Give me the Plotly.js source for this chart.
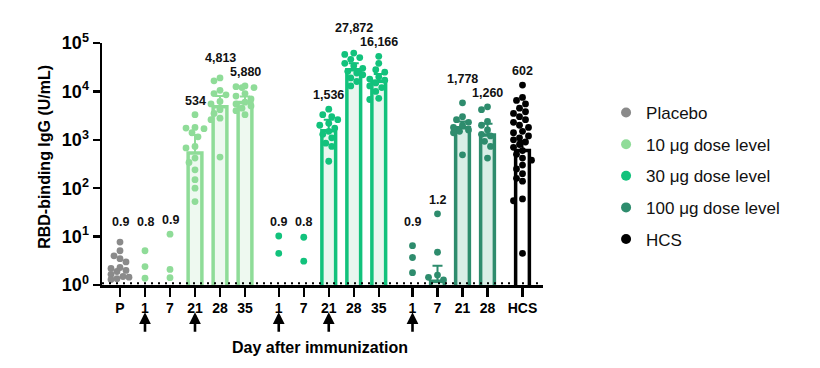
<!DOCTYPE html>
<html><head><meta charset="utf-8">
<script src="https://cdn.plot.ly/plotly-3.0.1.min.js"></script>
<style>html,body{margin:0;padding:0;background:#fff}#chart{width:820px;height:368px}</style>
</head><body><div id="chart"></div>
<script>
// ---------- data ----------
const seriesNames = ['Placebo', '10 μg dose level', '30 μg dose level', '100 μg dose level', 'HCS'];
const daysPlacebo = ['P'];
const days10 = ['1', '7', '21', '28', '35'];
const days30 = ['1', '7', '21', '28', '35'];
const days100 = ['1', '7', '21', '28'];
const daysHCS = ['HCS'];

// geometric mean titres (bar heights / labels)
const gmtPlacebo = [0.9];
const gmt10 = [0.8, 0.9, 534, 4813, 5880];
const gmt30 = [0.9, 0.8, 1536, 27872, 16166];
const gmt100 = [0.9, 1.2, 1778, 1260];
const gmtHCS = [602];

// upper end of error bars
const ciHiPlacebo = [null];
const ciHi10 = [null, null, 1260, 8000, 7800];
const ciHi30 = [null, null, 2600, 38000, 23000];
const ciHi100 = [null, 2.5, 2400, 2150];
const ciHiHCS = [950];

// individual values (visible ones)
const ptsPlacebo = [[7.7, 5.1, 4.0, 3.5, 3.0, 2.3, 2.2, 2.0, 1.9, 1.66, 1.5, 1.45, 1.35, 1.3]];
const pts10 = [
  [5.1, 2.4, 1.38],
  [11.2, 2.1, 1.42],
  [3300, 1800, 1750, 1700, 1400, 1150, 730, 680, 420, 340, 240, 150, 100, 53],
  [19000, 16500, 10500, 9000, 8500, 6200, 5500, 4200, 3500, 2800, 2600, 440],
  [13000, 12500, 12000, 12000, 9000, 8000, 7000, 6000, 5500, 5000, 4500, 4000, 3300]
];
const pts30 = [
  [10.3, 4.5],
  [9.7, 3.1],
  [4300, 3300, 3000, 2600, 2200, 2000, 1750, 1500, 1300, 1100, 850, 730, 360],
  [62000, 58000, 50000, 46000, 38000, 34000, 30000, 26000, 24000, 22000, 19000, 16000, 13000],
  [53000, 38000, 28000, 25000, 20000, 18000, 17000, 15000, 13000, 12000, 10000, 7200, 6800]
];
const pts100 = [
  [6.5, 3.7, 1.8],
  [29.5, 4.75, 1.6, 1.44, 1.27],
  [5800, 3000, 2600, 2300, 2000, 1800, 1600, 1500, 1400, 490],
  [4800, 4200, 2400, 2000, 1600, 1300, 1200, 930, 730, 420]
];
const ptsHCS = [[13500, 7500, 6500, 5500, 4500, 3800, 3500, 3000, 2600, 2300, 2000, 1800, 1500, 1400, 1200,
  1100, 1000, 900, 800, 700, 600, 500, 420, 380, 300, 250, 200, 160, 140, 60, 55, 4.5]];

// days on which a dose was given (arrows)
const doseDays10 = ['1', '21'];
const doseDays30 = ['1', '21'];
const doseDays100 = ['1'];

// ---------- styling ----------
const FONT = 'Liberation Sans, Arial, sans-serif';
const lineColors = ['#8a8a8a', '#8fdc98', '#12c27c', '#2e8c6d', '#000000'];
const fillColors = ['#eeeeee', '#eef9f0', '#e9f6ef', '#d9eee6', '#ffffff'];
const GROUP_GAP = 0.35;

const groups = [
  {days: daysPlacebo, gmt: gmtPlacebo, ci: ciHiPlacebo, pts: ptsPlacebo, doses: []},
  {days: days10, gmt: gmt10, ci: ciHi10, pts: pts10, doses: doseDays10},
  {days: days30, gmt: gmt30, ci: ciHi30, pts: pts30, doses: doseDays30},
  {days: days100, gmt: gmt100, ci: ciHi100, pts: pts100, doses: doseDays100},
  {days: daysHCS, gmt: gmtHCS, ci: ciHiHCS, pts: ptsHCS, doses: []}
];

// x positions: consecutive slots, with extra gap between groups
let cursor = 0;
groups.forEach((g, gi) => {
  if (gi > 0) cursor += (gi === 1 ? 0 : GROUP_GAP) + (gi === 4 ? 0.05 : 0);
  g.xs = g.days.map((d, i) => cursor + i);
  cursor += g.days.length;
});

const PX_X = 25.03, PX_DEC = 48.4, DIAM = 6.6, MAXOFF = 9;
function swarm(vals) {
  const placed = [];
  const order = vals.map((v, i) => i).sort((a, b) => vals[b] - vals[a]);
  const offs = new Array(vals.length).fill(0);
  const cands = [0];
  for (let k = 1; k * 3 <= MAXOFF; k++) { cands.push(-k * 3, k * 3); }
  order.forEach(i => {
    const py = Math.log10(vals[i]) * PX_DEC;
    let best = 0, bestScore = Infinity;
    for (const c of cands) {
      let overlap = 0;
      for (const p of placed) {
        const d = Math.hypot(p.x - c, p.y - py);
        if (d < DIAM) overlap += DIAM - d;
      }
      const score = overlap * 10 + Math.abs(c) * 0.01;
      if (score < bestScore) { bestScore = score; best = c; }
    }
    placed.push({x: best, y: py});
    offs[i] = best / PX_X;
  });
  return offs;
}

const fmt = v => v < 10 ? String(v) : v.toLocaleString('en-US');
const traces = [];
const annotations = [];
const tickvals = [], ticktext = [];

groups.forEach((g, gi) => {
  g.days.forEach((d, i) => { tickvals.push(g.xs[i]); ticktext.push(d); });
  // bars
  traces.push({
    type: 'bar', x: g.xs, y: g.gmt, width: g.xs.map(() => 0.55),
    marker: {color: fillColors[gi], line: {color: lineColors[gi], width: 3.5}},
    error_y: {type: 'data', symmetric: false,
      array: g.gmt.map((v, i) => g.ci[i] == null ? 0 : g.ci[i] - v),
      arrayminus: g.gmt.map(() => 0),
      color: lineColors[gi], thickness: 2, width: 5},
    showlegend: false, hoverinfo: 'skip'
  });
  // points
  const px = [], py = [];
  const labPx = [], labTxt = [], tops = [];
  g.pts.forEach((vals, i) => {
    const offs = swarm(vals);
    vals.forEach((v, j) => { px.push(g.xs[i] + offs[j]); py.push(v); });
    const top = Math.log10(Math.max(...vals));
    tops.push(top);
    labPx.push(Math.max(top * PX_DEC + 14, 63));
    labTxt.push(fmt(g.gmt[i]));
  });
  // avoid overlap between neighbouring labels: raise the left one
  for (let i = labPx.length - 2; i >= 0; i--) {
    const wA = labTxt[i].length * 7, wB = labTxt[i + 1].length * 7;
    if ((wA + wB) / 2 > PX_X && labPx[i] > labPx[i + 1] - 14) {
      labPx[i] = Math.max(labPx[i], labPx[i + 1] + 14);
    }
  }
  labPx.forEach((p, i) => {
    annotations.push({
      x: g.xs[i], y: tops[i], xref: 'x', yref: 'y', yshift: p - tops[i] * PX_DEC,
      text: labTxt[i], showarrow: false, yanchor: 'middle',
      font: {family: FONT, size: 12.5, color: '#111', weight: 700}
    });
  });
  traces.push({
    type: 'scatter', mode: 'markers', x: px, y: py, cliponaxis: true,
    marker: {color: lineColors[gi], size: 6.8, line: {width: 0}},
    showlegend: false, hoverinfo: 'y'
  });
  // dose arrows
  g.doses.forEach(dd => {
    const xi = g.xs[g.days.indexOf(dd)];
    annotations.push({
      x: xi, y: -0.113, xref: 'x', yref: 'paper', text: '', showarrow: true,
      ax: 0, ay: 21, arrowhead: 2, arrowsize: 0.9, arrowwidth: 2.6, arrowcolor: '#000'
    });
  });
});

// legend-only traces
seriesNames.forEach((n, i) => {
  traces.push({type: 'scatter', mode: 'markers', x: [null], y: [null], name: n,
    legendgroup: 'g' + i, marker: {color: lineColors[i], size: 10}});
});

annotations.push({
  x: -0.129, y: 0.53, xref: 'paper', yref: 'paper', text: 'RBD-binding IgG (U/mL)',
  textangle: -90, showarrow: false, xanchor: 'center', yanchor: 'middle',
  font: {family: FONT, size: 16, weight: 700, color: '#000'}
});
annotations.push({
  x: 0.495, y: -0.26, xref: 'paper', yref: 'paper', text: 'Day after immunization',
  showarrow: false, font: {family: FONT, size: 16, weight: 700, color: '#000'}, yanchor: 'middle'
});

const xmin = -0.72, xmax = cursor - 1 + 0.82;
const layout = {
  width: 820, height: 368,
  margin: {l: 102, r: 277, t: 43, b: 83},
  paper_bgcolor: '#fff', plot_bgcolor: '#fff',
  barmode: 'overlay',
  font: {family: FONT, color: '#000'},
  showlegend: true,
  legend: {x: 1.143, y: 0.785, xanchor: 'left', yanchor: 'top', tracegroupgap: 6.5,
    font: {family: FONT, size: 17, color: '#111'}, bgcolor: 'rgba(0,0,0,0)'},
  xaxis: {range: [xmin, xmax], tickmode: 'array', tickvals: tickvals, ticktext: ticktext,
    showline: true, linewidth: 2.5, linecolor: '#000', ticks: 'outside', ticklen: 9, tickwidth: 2.5,
    tickcolor: '#000', showgrid: false, zeroline: false, fixedrange: true,
    tickfont: {family: FONT, size: 14, weight: 700, color: '#000'}},
  yaxis: {type: 'log', range: [0, 5], tickmode: 'array', tickvals: [1, 10, 100, 1000, 10000, 100000],
    ticktext: ['10<sup>0</sup>', '10<sup>1</sup>', '10<sup>2</sup>', '10<sup>3</sup>', '10<sup>4</sup>', '10<sup>5</sup>'],
    showline: true, linewidth: 2.5, linecolor: '#000', ticks: 'outside', ticklen: 7, tickwidth: 2.5,
    tickcolor: '#000', showgrid: false, zeroline: false,
    tickfont: {family: FONT, size: 18, weight: 700, color: '#000'}},
  shapes: [{type: 'line', xref: 'x', yref: 'y', x0: xmin, x1: xmax, y0: 1.09, y1: 1.09,
    line: {color: '#000', width: 2, dash: '2px,5px'}}],
  annotations: annotations
};
Plotly.newPlot('chart', traces, layout, {displayModeBar: false, staticPlot: true});
</script></body></html>
